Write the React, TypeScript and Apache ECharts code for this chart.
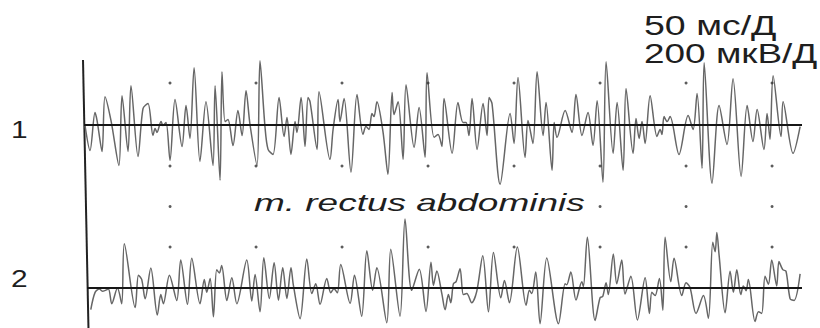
import React, { useEffect, useRef } from "react";
import * as echarts from "echarts";

// time in ms, amplitude in µV (50 ms / division, 200 µV / division)
const trace1: [number, number][] = [
  [0.6, -5], [3.5, -125], [6.4, 58], [7.6, 19], [10.5, -130], [12.2, 134], [15.7, 19], [20.3, -197], [22.1, 139], [25.6, -130],
  [27.3, 187], [31.4, -154], [34.3, 77], [37.2, 101], [40.1, -53], [41.3, -19], [42.4, -38], [44.8, 14], [45.9, -5], [47.7, 10],
  [50.0, -173], [52.9, 120], [57.0, -106], [59.3, 91], [61.6, -67], [64.0, 274], [67.4, -178], [70.9, 110], [75.0, -197], [76.2, 187],
  [79.1, -269], [80.2, 254], [82.0, 14], [83.7, 24], [86.6, -101], [89.5, 67], [91.9, -53], [94.2, 163], [96.5, 0], [100.6, -197],
  [102.3, 307], [105.2, -10], [107.0, -120], [109.9, -144], [113.4, 130], [116.3, -58], [118.0, 34], [120.3, -144], [122.7, 14], [123.8, -38],
  [126.2, 130], [128.5, -106], [130.2, 130], [131.4, 110], [135.5, -120], [136.6, 158], [143.0, -168], [144.8, -24], [147.7, 120], [148.8, 14],
  [151.2, 125], [155.2, -230], [158.7, 144], [162.2, -48], [163.9, -10], [165.7, -24], [167.4, 53], [168.6, 38], [170.3, 110], [173.8, -34],
  [176.7, -240], [179.1, 154], [180.2, 48], [182.6, 110], [185.5, -168], [187.2, 192], [191.9, -110], [194.8, 82], [198.3, -158], [199.4, 250],
  [203.5, -62], [205.8, -48], [208.1, -106], [209.3, 125], [214.0, -139], [217.4, 106], [220.3, 10], [222.1, 10], [223.8, -53], [225.6, 125],
  [228.5, -120], [232.0, 101], [234.3, -53], [235.5, 130], [237.2, 101], [241.9, -288], [247.7, 53], [250.0, -91], [252.3, 226], [256.4, -158],
  [258.1, 19], [261.0, -91], [263.4, 254], [266.9, -53], [268.6, 106], [272.1, -221], [273.3, 10], [275.0, -62], [279.7, 67], [283.7, -38],
  [286.0, 144], [289.5, -53], [293.0, 58], [295.9, -101], [298.3, 115], [301.7, -278], [303.5, 302], [307.6, -139], [309.9, 106], [313.4, -221],
  [315.1, 173], [319.2, -139], [320.9, 29], [322.7, -67], [324.4, 14], [326.2, -91], [329.1, 139], [333.1, -58], [334.9, -24], [336.0, -48],
  [337.2, 38], [339.0, 14], [340.7, 38], [345.9, -144], [351.2, 43], [354.1, -24], [356.4, 149], [359.3, -211], [360.5, 298], [365.1, -283],
  [369.2, 91], [373.8, -96], [377.3, 221], [382.0, -250], [385.5, 91], [388.9, -82], [391.3, 72], [395.3, -120], [397.1, 53], [398.8, -72],
  [400.6, 235], [405.2, -58], [406.4, 110], [412.2, -139], [416.3, -10],
];

const trace2: [number, number][] = [
  [3.9, -109], [6.4, -24], [8.9, -8], [10.9, -19], [14.1, -8], [16.1, -80], [19.4, -3], [21.9, -80], [23.4, 216], [29.7, -99],
  [31.6, 61], [33.5, 40], [35.5, -56], [38.8, 96], [42.6, -136], [44.6, -35], [46.1, -80], [49.6, 61], [53.9, -64], [56.2, 136],
  [60.1, -83], [62.6, 144], [67.4, -80], [69.9, 40], [71.3, -24], [73.3, 45], [75.2, -144], [77.1, 88], [78.7, 72], [80.0, 109],
  [83.0, -64], [85.9, 48], [88.8, -80], [94.6, 136], [97.5, -67], [99.4, 64], [102.3, -120], [104.5, 147], [107.7, -54], [110.5, 122],
  [113.0, -62], [115.5, 98], [117.9, -54], [120.3, 98], [121.7, 10], [125.6, -154], [129.5, 141], [132.4, -30], [134.7, 18], [137.2, -83],
  [141.1, 45], [143.4, -26], [145.3, -6], [147.3, -26], [149.2, 114], [154.7, -78], [157.2, 61], [161.4, -142], [164.4, 182], [167.8, -14],
  [170.2, 98], [176.0, -174], [178.3, 189], [183.7, -142], [186.6, 338], [190.5, -14], [194.9, 90], [198.8, -118], [201.7, 125], [203.1, 10],
  [205.1, 82], [208.0, -30], [209.9, -110], [211.8, -35], [213.2, -75], [214.7, 18], [216.3, 29], [218.6, 93], [220.5, -35], [222.5, -30],
  [225.4, -75], [228.3, -19], [231.8, 157], [235.1, -120], [238.0, 173], [242.3, -51], [244.4, 34], [247.3, -75], [251.9, 200], [257.0, -88],
  [258.9, -14], [260.3, -30], [262.6, 77], [265.1, -179], [269.0, 146], [275.8, -179], [279.7, 18], [280.6, 13], [283.0, 77], [286.0, -62],
  [289.4, 29], [290.3, 5], [292.6, 248], [297.1, -163], [300.0, -51], [301.6, -43], [303.5, 24], [304.8, -35], [307.7, 165], [309.7, 18],
  [312.6, 136], [314.5, -32], [317.9, 56], [321.7, -160], [326.2, 48], [328.7, -128], [330.1, -24], [332.0, -40], [334.5, 45], [336.5, -112],
  [337.8, 248], [341.1, 29], [343.0, 144], [347.5, -40], [350.0, 24], [352.3, 0], [355.8, -128], [360.1, -40], [363.0, -152], [365.5, 224],
  [366.9, 176], [367.9, 272], [369.2, 160], [372.7, -125], [375.6, 80], [377.5, -24], [379.5, 88], [381.8, -35], [383.3, 8], [384.9, -16],
  [386.2, 40], [390.1, -168], [392.1, -120], [394.0, -128], [395.9, 56], [397.9, 16], [399.8, 136], [402.7, 8], [404.0, 128], [406.2, 88],
  [408.1, 80], [410.5, -56], [412.8, -64], [416.3, 67],
];

const divisionTimes = [50, 100, 150, 200, 250, 300, 350, 400];
const dotLevels1 = [200, -200];
const dotLevels2 = [200];
const upperRow2Times = [50, 300, 350, 400];
const upperRow2Level = 400;

const traceLabels = ["1", "2"];
const muscleLabel = "m. rectus abdominis";
const scaleLabels = ["50 мс/Д", "200 мкВ/Д"];

const FONT = '"Liberation Sans", Arial, sans-serif';

export default function App() {
  const ref = useRef<HTMLDivElement>(null);
  useEffect(() => {
    if (!ref.current) return;
    const chart = echarts.init(ref.current, null, { renderer: "svg" });

    const dots1: [number, number][] = [];
    dotLevels1.forEach((lv) => divisionTimes.forEach((t) => dots1.push([t, lv])));
    const dots2: [number, number][] = [];
    dotLevels2.forEach((lv) => divisionTimes.forEach((t) => dots2.push([t, lv])));
    upperRow2Times.forEach((t) => dots2.push([t, upperRow2Level]));

    const baseLine = {
      silent: true,
      symbol: "none",
      label: { show: false },
      lineStyle: { color: "#161616", width: 2, type: "solid" },
      emphasis: { disabled: true },
      data: [{ yAxis: 0 }],
    };

    const textEl = (text: string, x: number, y: number, size: number, sx: number, italic = false) => ({
      type: "text",
      x,
      y,
      scaleX: sx,
      silent: true,
      style: {
        text,
        fontSize: size,
        fontFamily: FONT,
        fontStyle: italic ? "italic" : "normal",
        fill: "#1e1e1e",
        align: "left",
        verticalAlign: "middle",
        textAlign: "left",
        textVerticalAlign: "middle",
      },
    });

    chart.setOption({
      animation: false,
      backgroundColor: "#ffffff",
      grid: [
        { left: 84, right: 18, top: 41.5, height: 166 },
        { left: 87, right: 18, top: 206.5, height: 124.5 },
      ],
      xAxis: [
        { type: "value", gridIndex: 0, min: 0, max: 417.4, show: false },
        { type: "value", gridIndex: 1, min: 1.7, max: 417.4, show: false },
      ],
      yAxis: [
        { type: "value", gridIndex: 0, min: -400, max: 400, show: false },
        { type: "value", gridIndex: 1, min: -200, max: 400, show: false },
      ],
      series: [
        {
          type: "line",
          xAxisIndex: 0,
          yAxisIndex: 0,
          data: trace1,
          symbol: "none",
          smooth: 0.3,
          lineStyle: { color: "#666666", width: 1.5 },
          markLine: baseLine,
          z: 2,
        },
        {
          type: "line",
          xAxisIndex: 1,
          yAxisIndex: 1,
          data: trace2,
          symbol: "none",
          smooth: 0.3,
          lineStyle: { color: "#666666", width: 1.5 },
          markLine: baseLine,
          z: 2,
        },
        {
          type: "scatter",
          xAxisIndex: 0,
          yAxisIndex: 0,
          data: dots1,
          symbolSize: 3,
          clip: false,
          itemStyle: { color: "#333333" },
          silent: true,
        },
        {
          type: "scatter",
          xAxisIndex: 1,
          yAxisIndex: 1,
          data: dots2,
          symbolSize: 3,
          clip: false,
          itemStyle: { color: "#333333" },
          silent: true,
        },
      ],
      graphic: [
        {
          type: "line",
          silent: true,
          shape: { x1: 83, y1: 60, x2: 88.5, y2: 330 },
          style: { stroke: "#222222", lineWidth: 2 },
        },
        textEl(traceLabels[0], 11, 130, 23, 1.3),
        textEl(traceLabels[1], 11, 279, 23, 1.3),
        textEl(muscleLabel, 254, 203, 24, 1.54, true),
        textEl(scaleLabels[0], 644, 25, 28, 1.34),
        textEl(scaleLabels[1], 644, 53, 28, 1.32),
      ],
    });
    return () => chart.dispose();
  }, []);
  return (
    <div
      ref={ref}
      style={{ position: "fixed", left: 0, top: 0, width: 820, height: 328, background: "#fff" }}
    />
  );
}
